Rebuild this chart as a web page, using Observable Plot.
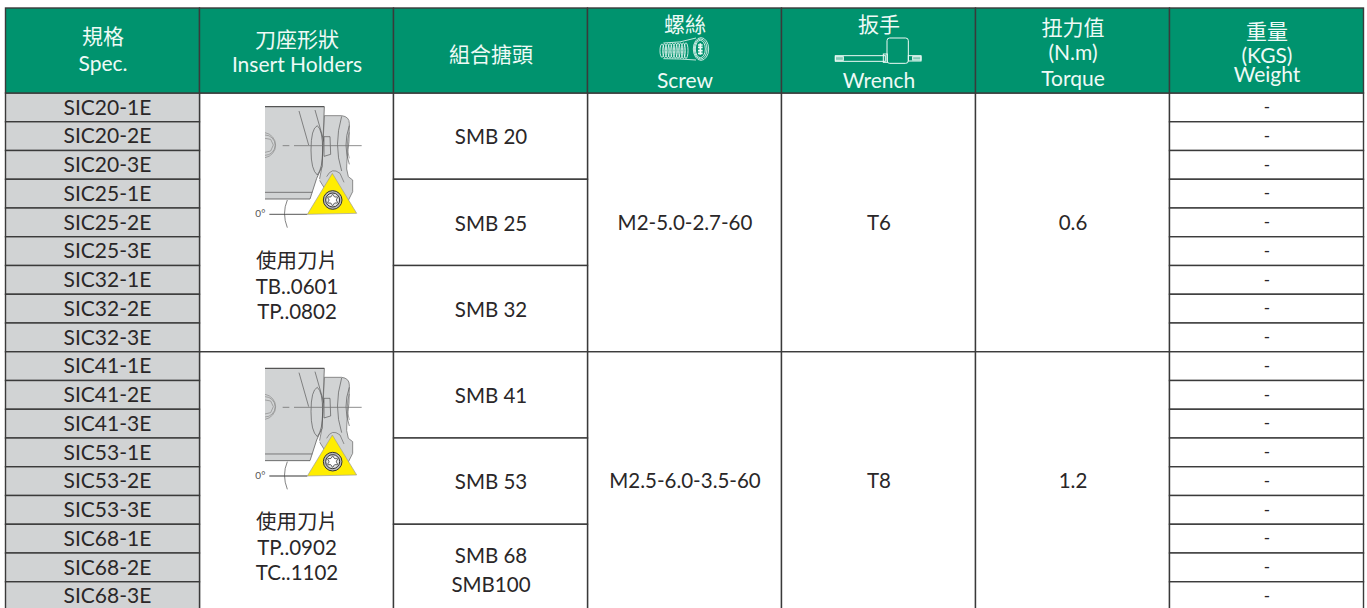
<!DOCTYPE html>
<html>
<head>
<meta charset="utf-8">
<style>html,body{margin:0;padding:0;background:#fff;overflow:hidden}svg{display:block}</style>
<script src="https://cdn.jsdelivr.net/npm/d3@7"></script>
<script src="https://cdn.jsdelivr.net/npm/@observablehq/plot@0.6"></script>
</head>
<body>
<div id="chart"></div>
<script>
// ---- table content ----
const specs = ["SIC20-1E","SIC20-2E","SIC20-3E","SIC25-1E","SIC25-2E","SIC25-3E","SIC32-1E","SIC32-2E","SIC32-3E",
               "SIC41-1E","SIC41-2E","SIC41-3E","SIC53-1E","SIC53-2E","SIC53-3E","SIC68-1E","SIC68-2E","SIC68-3E"];
const weights = specs.map(() => "-");
const insertLabels = ["使用刀片\nTB..0601\nTP..0802", "使用刀片\nTP..0902\nTC..1102"];
const boringHeads = ["SMB 20","SMB 25","SMB 32","SMB 41","SMB 53","SMB 68\nSMB100"];
const screws = ["M2-5.0-2.7-60","M2.5-6.0-3.5-60"];
const wrenches = ["T6","T8"];
const torques = ["0.6","1.2"];
const headerLines = [
  ["規格",0,35],["Spec.",0,62],
  ["刀座形狀",1,38],["Insert Holders",1,63],
  ["組合搪頭",2,53],
  ["螺絲",3,23],["Screw",3,79],
  ["扳手",4,23],["Wrench",4,79],
  ["扭力值",5,26],["(N.m)",5,51],["Torque",5,77],
  ["重量",6,30],["(KGS)",6,54],["Weight",6,73]
];

// ---- layout ----
const font = "Lato, 'Noto Sans CJK TC', sans-serif";
const ink = "#2a2728", rule = "#3a3a3a", green = "#00936e", grey = "#d1d3d4", pale = "#eefaf6";
const rowTop = 93, rowH = 28.75, headerTop = 8;
const rowOf = p => (p - rowTop) / rowH;
const cols = d3.range(7);
const bodyRows = d3.range(18);
const groupStep = 9, subStep = 3;

const cell = (col, row, span) => ({col, row, span});
const mergedCells = [
  ...d3.range(2).flatMap(g => [1,3,4,5].map(c => cell(c, g*groupStep, groupStep))),
  ...d3.range(6).map(i => cell(2, i*subStep, subStep))
];
const rectOf = (data, fill) => Plot.rect(data, {
  x1: d => d.col, x2: d => d.col + 1, y1: d => d.row, y2: d => d.row + d.span,
  fill, stroke: rule, strokeWidth: 1.4
});
const textOf = (data, o) => Plot.text(data, {
  fontFamily: font, fill: ink, fontSize: 20.5, lineAnchor: "middle", lineHeight: 1.24, dy: -1.5, ...o
});

// ---- drawings (not data) ----
function holder(row, dy) {
  return (index, {x, y}) => {
    const g = d3.create("svg:g").attr("transform", `translate(${x(1)+0.5},${y(row)+dy}) scale(${1/3})`);
    const p = (d, fill, stroke, w) => g.append("path").attr("d", d).attr("fill", fill||"none")
      .attr("stroke", stroke||"none").attr("stroke-width", w||2);
    p("M373,62H425Q448,65 448,85L447,140Q440,190 440,222L445,245L458,255V290L442,322H400L358,255L366,215Z", grey, "#777", 2.5);
    p("M350,250L360,252L337,314H326Z", "#fff");
    p("M195,35H373L366,215L350,250L330,312H195Z", grey);
    p("M373,35L366,215L350,250L330,312", null, "#666", 2.5);
    p("M195,35H373", null, "#555", 3.5);
    p("M195,312H330", null, "#555", 2.5);
    p("M195,292H337", null, "#666", 2.5);
    p("M297,48L326,150", null, "#555", 2);
    p("M345,45L372,140", null, "#555", 2);
    p("M352,92Q333,100 333,165Q333,225 352,240Q368,220 368,165Q368,105 352,92Z", null, "#555", 2);
    p("M372,125H390L392,178L372,184Z", grey, "#555", 2);
    p("M195,113A38,38 0 0 1 195,188", null, "#888", 2);
    p("M195,120A30,30 0 0 1 195,181", null, "#888", 2);
    p("M195,130L212,133L220,150L212,168L195,172", null, "#888", 2);
    p("M425,64Q400,150 425,228", null, "#555", 2);
    p("M448,92Q428,150 448,208", null, "#555", 2);
    p("M448,112Q436,150 448,190", null, "#777", 2);
    p("M380,245Q395,215 420,235L432,262", grey, "#666", 2);
    p("M248,152H268M282,152H485", null, "#777", 2.5);
    p("M208,358H322", null, "#777", 4);
    p("M262,315Q245,355 262,398", null, "#444", 2);
    p("M397,235L470,355L322,358Z", "#ffed00", "#9a9a9a", 2);
    g.append("circle").attr("cx",398).attr("cy",315).attr("r",28).attr("fill","#b9babc").attr("stroke","#333").attr("stroke-width",3);
    g.append("circle").attr("cx",398).attr("cy",315).attr("r",21).attr("fill","#e6e7e8").attr("stroke","#333").attr("stroke-width",3);
    const star = d3.range(12).map(i => {
      const a = i*Math.PI/6, r = i%2 ? 11 : 17;
      return [398+r*Math.sin(a), 315-r*Math.cos(a)];
    });
    g.append("path").attr("d", d3.line().curve(d3.curveCatmullRomClosed)(star)).attr("fill","#fff").attr("stroke","#333").attr("stroke-width",2.5);
    g.append("text").text("0°").attr("x",181).attr("y",367).attr("font-size",30).attr("fill","#555").attr("font-family",font);
    return g.node();
  };
}
function screwIcon(index, {x}) {
  const g = d3.create("svg:g").attr("transform", `translate(${x(3)+52.5},10) scale(${1/3})`)
    .attr("fill","none").attr("stroke",pale).attr("stroke-width",2.5);
  d3.range(66,140,8).forEach(cx => {
    const ry = 20 + (cx-66)*0.05;
    g.append("ellipse").attr("cx",cx).attr("cy",122).attr("rx",6).attr("ry",ry);
  });
  g.append("path").attr("d","M70,99Q120,100 168,84M70,146Q120,146 168,150");
  [[183,117,23,34],[182,117,19,30],[181,117,15,26]].forEach(([cx,cy,rx,ry]) =>
    g.append("ellipse").attr("cx",cx).attr("cy",cy).attr("rx",rx).attr("ry",ry));
  g.append("path").attr("stroke-width",5).attr("d","M181,100V134M174,105H188M174,112H188M174,122H188M174,130H188");
  return g.node();
}
function wrenchIcon(index, {x}) {
  const g = d3.create("svg:g").attr("transform", `translate(${x(4)-141.5},10) scale(${1/3})`)
    .attr("fill","none").attr("stroke",pale).attr("stroke-width",3);
  g.append("rect").attr("x",586).attr("y",137).attr("width",150).attr("height",17);
  g.append("rect").attr("x",586).attr("y",140).attr("width",24).attr("height",11).attr("fill",pale).attr("fill-opacity",.55);
  g.append("rect").attr("x",730).attr("y",132).attr("width",12).attr("height",25);
  g.append("rect").attr("x",741).attr("y",84).attr("width",64).attr("height",76).attr("rx",8);
  g.append("rect").attr("x",805).attr("y",137).attr("width",38).attr("height",16);
  g.append("rect").attr("x",818).attr("y",140).attr("width",25).attr("height",10).attr("fill",pale).attr("fill-opacity",.55);
  return g.node();
}

// ---- chart ----
const chart = Plot.plot({
  width: 1367, height: 608,
  marginTop: 0, marginRight: 0, marginBottom: 0, marginLeft: 0,
  x: {type: "linear", domain: [0, 7], range: [5.5, 1363.5], axis: null},
  y: {type: "linear", domain: [0, 18], range: [rowTop, rowTop + 18*rowH], axis: null},
  style: {background: "#fff", fontFamily: font},
  marks: [
    rectOf(mergedCells, "#fff"),
    rectOf(bodyRows.map(r => cell(0, r, 1)), grey),
    rectOf(bodyRows.map(r => cell(6, r, 1)), "#fff"),
    Plot.rect(cols, {x1: c => c, x2: c => c + 1, y1: rowOf(headerTop), y2: 0, fill: green, stroke: rule, strokeWidth: 1.4}),
    holder(0, 2), holder(9, 4.9), screwIcon, wrenchIcon,
    textOf(headerLines, {x: d => d[1] + 0.5, y: d => rowOf(d[2]), text: d => d[0], fill: pale, fontSize: 21, dy: 0}),
    textOf(specs, {x: 0.523, y: (d, i) => i + 0.5, text: d => d, fontSize: 21}),
    textOf(weights, {x: 6.5, y: (d, i) => i + 0.5, text: d => d, fontSize: 17}),
    textOf(insertLabels, {x: 1.5, y: (d, i) => i*groupStep + rowOf(rowTop + 193.5) + (i ? 0.08 : 0), text: d => d}),
    textOf(boringHeads, {x: 2.5, y: (d, i) => i*subStep + 1.5 + (i === 5 ? 0.08 : 0), text: d => d, lineHeight: 1.41}),
    textOf(screws, {x: 3.5, y: (d, i) => i*groupStep + 4.5, text: d => d}),
    textOf(wrenches, {x: 4.5, y: (d, i) => i*groupStep + 4.5, text: d => d}),
    textOf(torques, {x: 5.5, y: (d, i) => i*groupStep + 4.5, text: d => d})
  ]
});
document.getElementById("chart").append(chart);
</script>
</body>
</html>
